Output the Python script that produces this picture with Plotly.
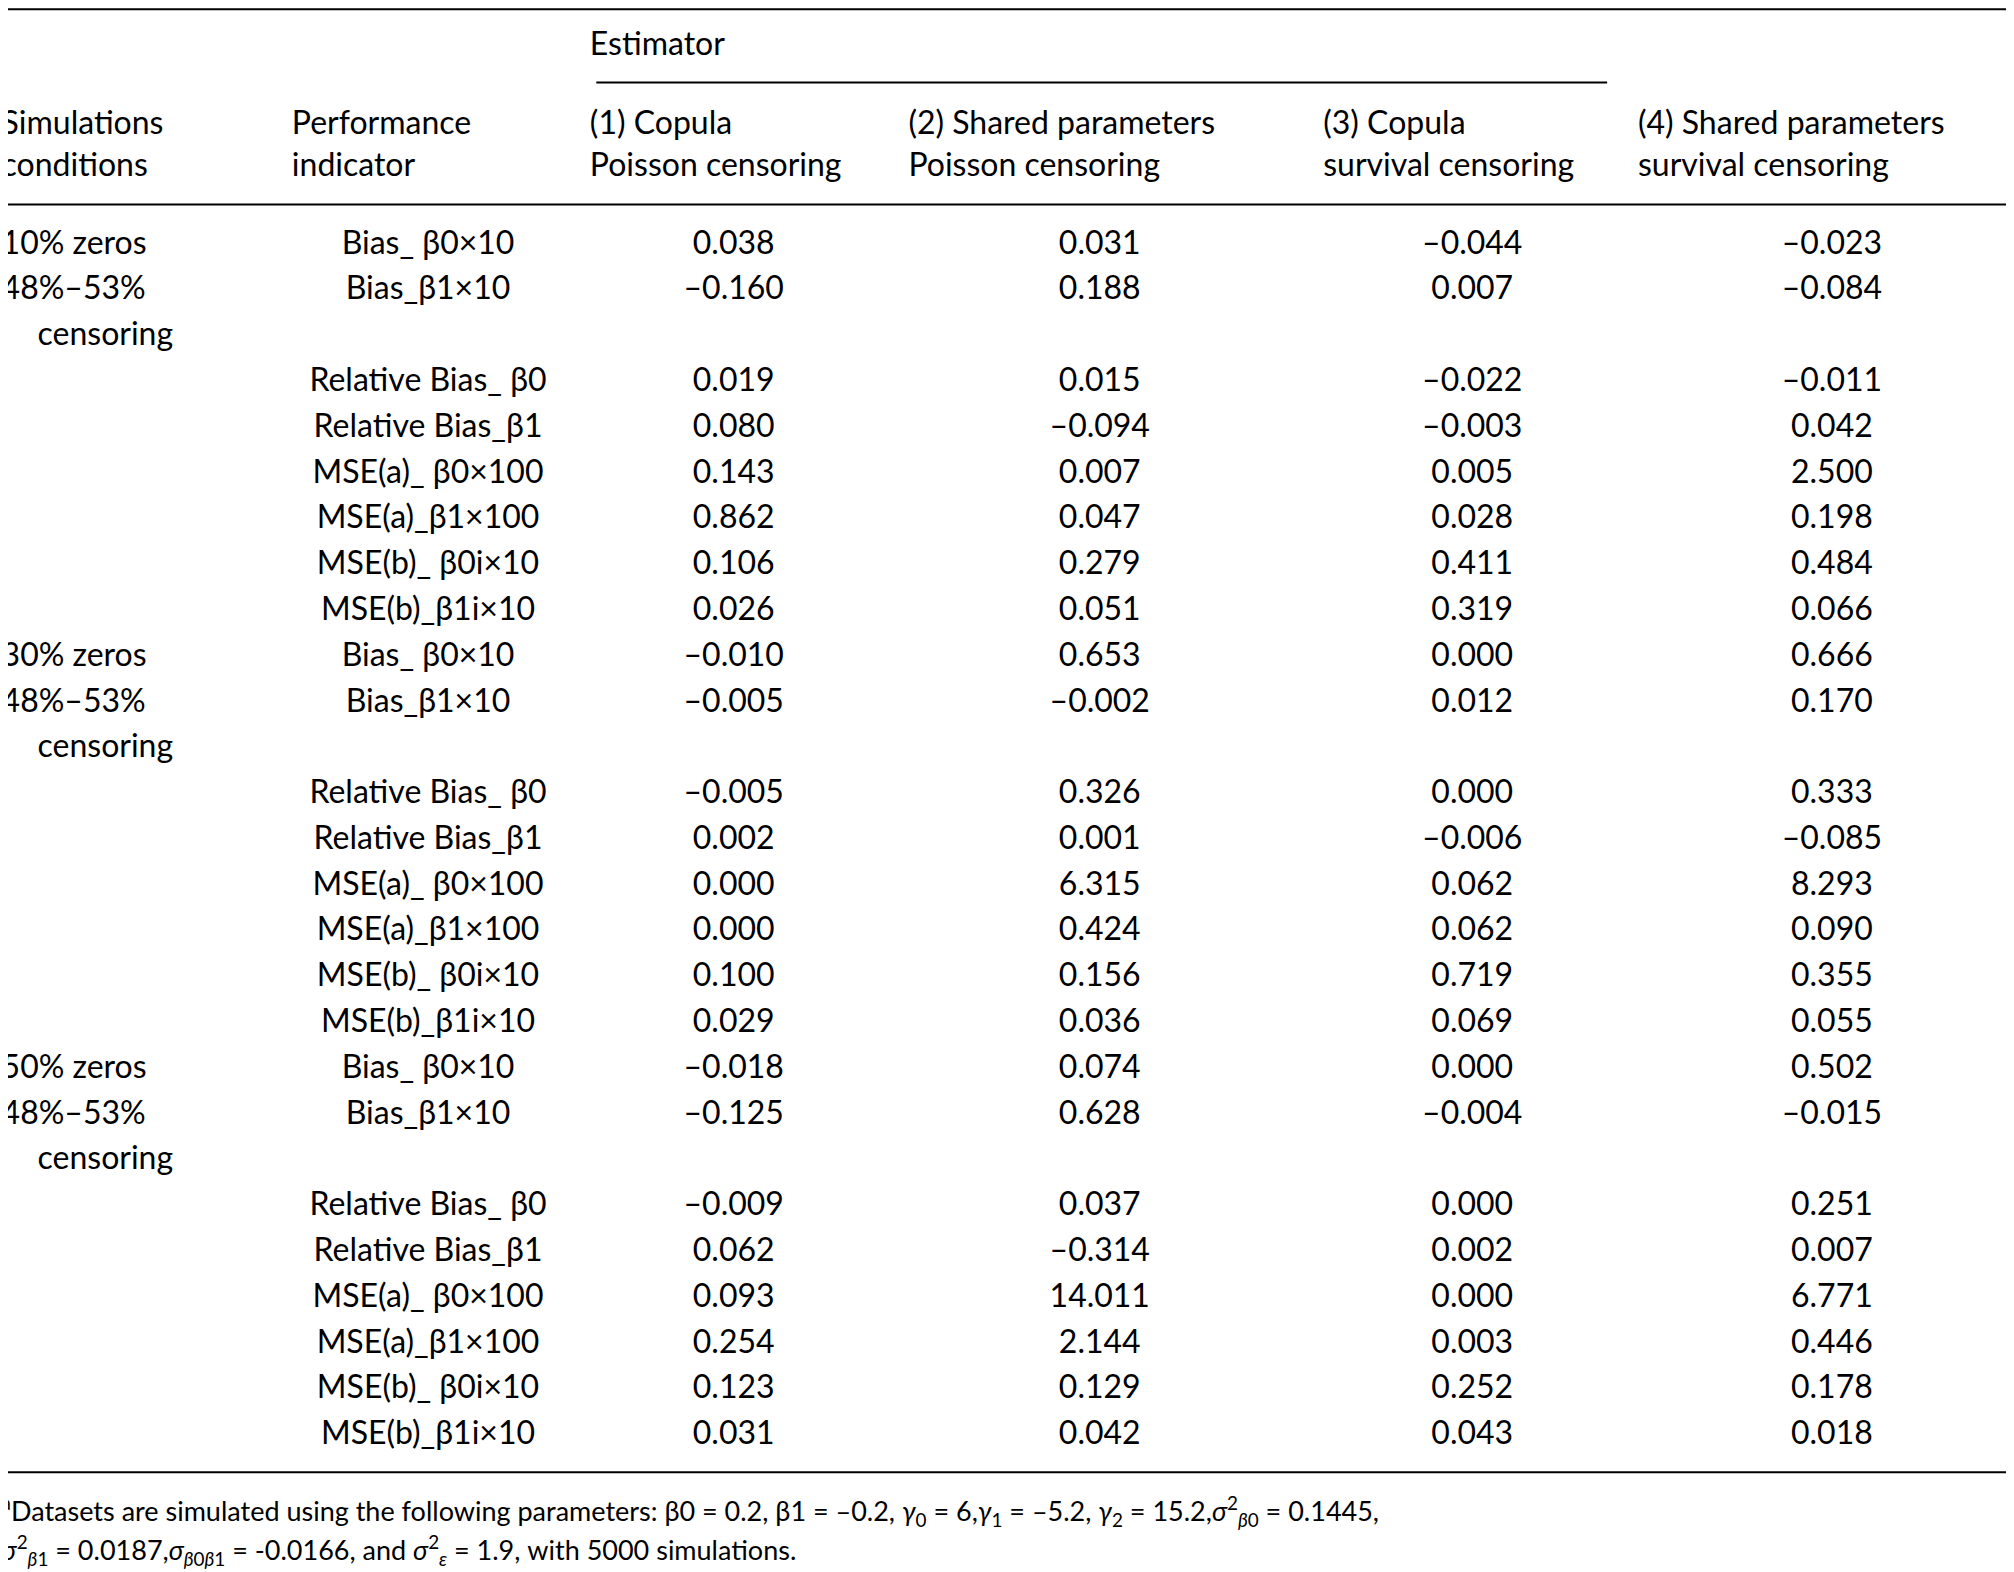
import plotly.graph_objects as go

conditions = ["10% zeros", "30% zeros", "50% zeros"]
indicators = ["Bias_ β0×10", "Bias_β1×10", "Relative Bias_ β0", "Relative Bias_β1",
              "MSE(a)_ β0×100", "MSE(a)_β1×100", "MSE(b)_ β0i×10", "MSE(b)_β1i×10"]
headers = ["(1) Copula<br>Poisson censoring", "(2) Shared parameters<br>Poisson censoring",
           "(3) Copula<br>survival censoring", "(4) Shared parameters<br>survival censoring"]
copula_poisson = [0.038, -0.160, 0.019, 0.080, 0.143, 0.862, 0.106, 0.026,
                  -0.010, -0.005, -0.005, 0.002, 0.000, 0.000, 0.100, 0.029,
                  -0.018, -0.125, -0.009, 0.062, 0.093, 0.254, 0.123, 0.031]
shared_poisson = [0.031, 0.188, 0.015, -0.094, 0.007, 0.047, 0.279, 0.051,
                  0.653, -0.002, 0.326, 0.001, 6.315, 0.424, 0.156, 0.036,
                  0.074, 0.628, 0.037, -0.314, 14.011, 2.144, 0.129, 0.042]
copula_survival = [-0.044, 0.007, -0.022, -0.003, 0.005, 0.028, 0.411, 0.319,
                   0.000, 0.012, 0.000, -0.006, 0.062, 0.062, 0.719, 0.069,
                   0.000, -0.004, 0.000, 0.002, 0.000, 0.003, 0.252, 0.043]
shared_survival = [-0.023, -0.084, -0.011, 0.042, 2.500, 0.198, 0.484, 0.066,
                   0.666, 0.170, 0.333, -0.085, 8.293, 0.090, 0.355, 0.055,
                   0.502, -0.015, 0.251, 0.007, 6.771, 0.446, 0.178, 0.018]

S = 2014 / 1568  # reference drawn at 1568 wide
FONT = dict(family="Lato", size=32, color="black")
fig = go.Figure()

def txt(xs, ys, texts, pos):
    fig.add_trace(go.Scatter(x=[x * S for x in xs], y=[y * S for y in ys], text=texts,
                             mode="text", textposition=pos, textfont=FONT,
                             hoverinfo="skip", showlegend=False))

def fmt(v):
    return f"{v:.3f}".replace("-", "–")

# row y for each line (9 lines per group; 3rd line is 'censoring')
y0, dy = 185, 35.65
rows_y = []
for g in range(3):
    for k in range(8):
        line = g * 9 + (k if k < 2 else k + 1)
        rows_y.append(y0 + line * dy)

# header
txt([453], [30], ["Estimator"], "middle right")
txt([-5, 221], [108, 108], ["Simulations<br>conditions", "Performance<br>indicator"], "middle right")
txt([453, 701, 1024, 1269], [108] * 4, headers, "middle right")

# conditions
for g, c in enumerate(conditions):
    yb = y0 + g * 9 * dy
    txt([-5, -5, 23], [yb, yb + dy, yb + 2 * dy], [c, "48%–53%", "censoring"], "middle right")

txt([327] * 24, rows_y, [indicators[i % 8] for i in range(24)], "middle center")
for cx, vals in zip([565, 850, 1140, 1420], [copula_poisson, shared_poisson, copula_survival, shared_survival]):
    txt([cx] * 24, rows_y, [fmt(v) for v in vals], "middle center")

foot = ("<sup>a</sup>Datasets are simulated using the following parameters: β0 = 0.2, β1 = –0.2, <i>γ</i><sub>0</sub> = 6,<i>γ</i><sub>1</sub> = –5.2, "
        "<i>γ</i><sub>2</sub> = 15.2,<i>σ</i><sup>2</sup><sub><i>β</i>0</sub> = 0.1445,")
foot2 = ("<i>σ</i><sup>2</sup><sub><i>β</i>1</sub> = 0.0187,<i>σ</i><sub><i>β</i>0<i>β</i>1</sub> = -0.0166, and "
         "<i>σ</i><sup>2</sup><sub><i>ε</i></sub> = 1.9, with 5000 simulations.")
fig.add_trace(go.Scatter(x=[-5 * S, -5 * S], y=[1173 * S, 1203 * S], text=[foot, foot2], mode="text",
                         textposition="middle right", textfont=dict(family="Lato", size=27, color="black"),
                         hoverinfo="skip", showlegend=False))

for yl, x0, x1, w in [(1, 0, 1568, 2), (58, 458, 1245, 2), (153, 0, 1568, 2), (1140, 0, 1568, 2)]:
    fig.add_shape(type="line", x0=x0 * S, x1=x1 * S, y0=yl * S, y1=yl * S,
                  line=dict(color="black", width=w))

fig.update_layout(width=2014, height=1572, margin=dict(l=0, r=0, t=0, b=0),
                  plot_bgcolor="white", paper_bgcolor="white",
                  xaxis=dict(range=[0, 2014], visible=False, fixedrange=True),
                  yaxis=dict(range=[1572, 0], visible=False, fixedrange=True))
fig.write_html("out.html")
